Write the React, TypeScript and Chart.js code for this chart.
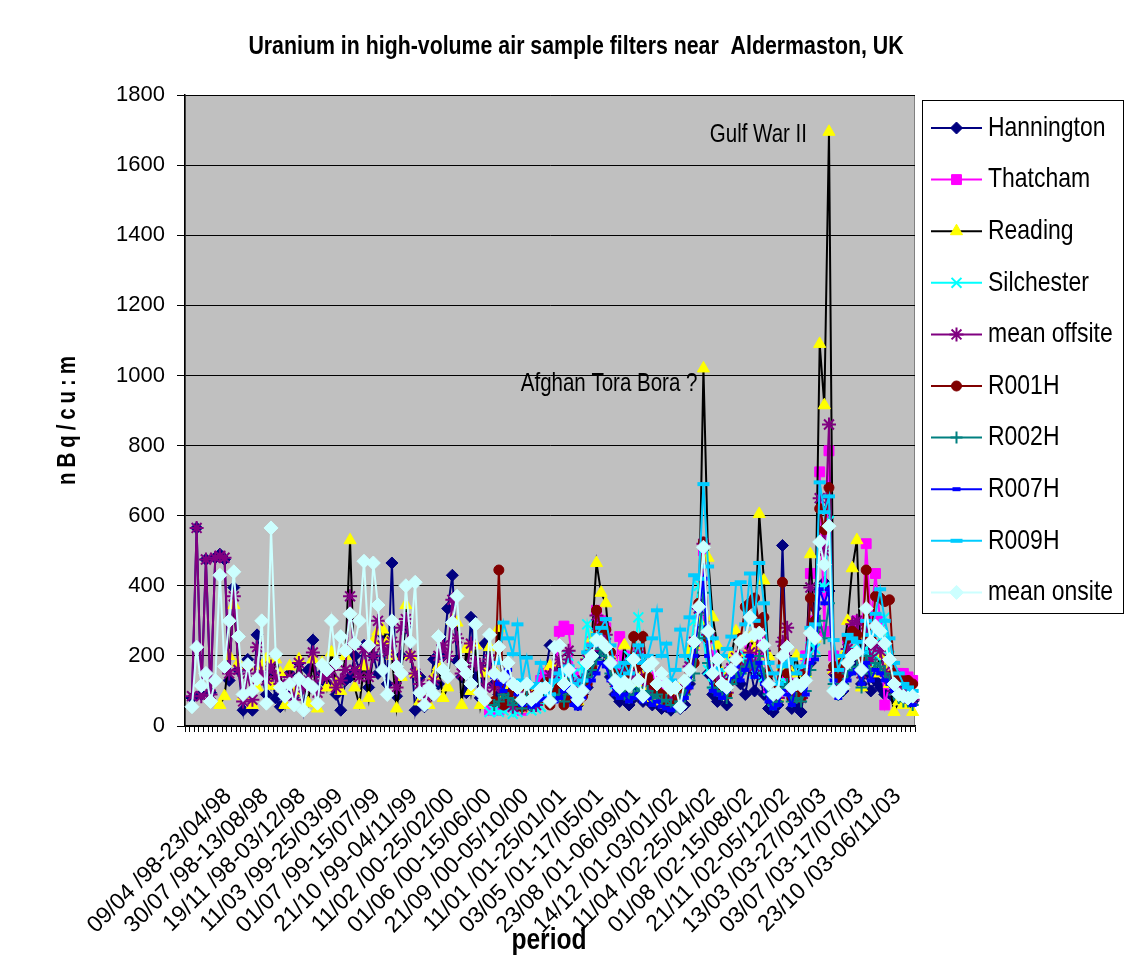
import React, { useEffect, useRef } from 'react';
import { Chart, registerables } from 'chart.js';
import { drawPoint } from 'chart.js/helpers';

Chart.register(...registerables);

const NA = null;

// ---- tick labels (every 8th fortnightly period) ----
const TICK_LABELS = [
  '09/04 /98-23/04/98', '30/07 /98-13/08/98', '19/11 /98-03/12/98', '11/03 /99-25/03/99',
  '01/07 /99-15/07/99', '21/10 /99-04/11/99', '11/02 /00-25/02/00', '01/06 /00-15/06/00',
  '21/09 /00-05/10/00', '11/01 /01-25/01/01', '03/05 /01-17/05/01', '23/08 /01-06/09/01',
  '14/12 /01-03/01/02', '11/04 /02-25/04/02', '01/08 /02-15/08/02', '21/11 /02-05/12/02',
  '13/03 /03-27/03/03', '03/07 /03-17/07/03', '23/10 /03-06/11/03',
];
const CATEGORY_COUNT = 157;
const LABEL_FIRST = 1;
const LABEL_STEP = 8;

// ---- series values (nBq/cu.m), one value per period ----
const HANNINGTON = [
  NA,
  80, 565, 90, 475, 95, 480, 490, 475, 130, 395,
  160, 45, 190, 45, 260, 145, 90, 150, 80, 55,
  100, 150, 85, 180, 45, 160, 245, 105, 150, 120,
  170, 90, 45, 130, 140, 200, 160, 230, 110, 200,
  150, 260, 120, 465, 85, 200, 280, 240, 45, 140,
  55, 80, 190, 120, 200, 335, 430, 185, 140, 95,
  310, 140, 80, 235, 170, 120, 90, 60, 75, 50,
  100, 60, 80, 55, 70, 100, 150, 230, 225, 150,
  100, 130, 70, 60, 90, 110, 160, 200, 230, 180,
  140, 90, 70, 90, 60, 80, 110, 70, 90, 60,
  75, 50, 55, 45, 65, 50, 60, 120, 200, 340,
  300, 150, 90, 70, 110, 60, 130, 150, 120, 90,
  170, 100, 150, 90, 50, 40, 60, 515, 120, 50,
  60, 40, 130, 180, 335, 390, 410, 385, 150, 90,
  100, 150, 200, 180, 120, 150, 100, 130, 110, 90,
  100, 80, 100, 90, 80, 70,
];

const THATCHAM = [
  NA, NA, NA, NA, NA, NA, NA, NA, NA, NA,
  NA, NA, NA, NA, NA, NA, NA, NA, NA, NA,
  NA, NA, NA, NA, NA, NA, NA, NA, NA, NA,
  NA, NA, NA, NA, NA, NA, NA, NA, NA, NA,
  NA, NA, NA, NA, NA, NA, NA, NA, NA, NA,
  NA, NA, NA, NA, NA, NA, NA, NA, NA, NA,
  NA, NA, NA, NA, NA,
  45,
  50, 45, 60, 70, 55,
  80, 45, 90, 70, 60, 130, 150, 100, 130, 270,
  285, 275, 150, 100, 130, 180, 240, 330, 300, 280,
  200, 150, 255, 200, 150, 180, 210, 160, 130, 110,
  140, 120, 100, 90, 80, 100, 110, 160, 230, 300,
  500, 250, 200, 150, 130, 120, 160, 190, 200, 180,
  230, 200, 260, 210, 110, 80, 90, 150, 130, 100,
  120, 110, 200, 435, 300, 725, 270, 785, 200, 150,
  180, 250, 280, 300, 200, 520, 300, 435, 300, 60,
  120, 150, 150, 150, 140, 130,
];

const READING = [
  NA,
  NA, NA, NA, NA, NA, NA, 60, 85, 200, 345,
  180, 85, 170, 60, 110, 170, 190, 115, 190, 150,
  60, 170, 95, 190, 120, 65, 190, 50, 180, 110,
  210, 120, 100, 200, 530, 110, 60, 170, 80, 240,
  270, 275, 240, 200, 50, 140, 345, 200, 150, 70,
  90, 60, 140, 170, 80, 110, 300, 295, 60, 220,
  100, 230, 60, 150, 225, 160, 280, 80, 100, 60,
  90, 50, 110, 70, 60, 90, 70, 170, 150, 180,
  130, 160, 110, 70, 120, 200, 250, 465, 380, 350,
  200, 130, 110, 230, 150, 120, 160, 110, 100, 80,
  90, 70, 60, 100, 70, 90, 130, 215, 230, 300,
  1020, 480, 310, 230, 150, 100, 200, 270, 180, 200,
  250, 220, 605, 415, 200, 100, 80, 170, 230, 150,
  200, 90, 150, 490, 250, 1090, 915, 1695, 160, 100,
  200, 300, 450, 530, 110, 260, 180, 150, 200, 160,
  120, 40, 70, 60, 70, 40,
];

const SILCHESTER = [
  NA, NA, NA, NA, NA, NA, NA, NA, NA, NA,
  NA, NA, NA, NA, NA, NA, NA, NA, NA, NA,
  NA, NA, NA, NA, NA, NA, NA, NA, NA, NA,
  NA, NA, NA, NA, NA, NA, NA, NA, NA, NA,
  NA, NA, NA, NA, NA, NA, NA, NA, NA, NA,
  NA, NA, NA, NA, NA, NA, NA, NA, NA, NA,
  NA, NA, NA, NA, NA,
  40,
  45, 40, 45, 50, 35,
  40, 60, 70, 45, 50, 55, 80, 75, 120, 150,
  110, 200, 150, 100, 170, 290, 210, 260, 250, 240,
  180, 120, 100, 160, 200, 180, 310, 190, 150, 120,
  100, 90, 80, 70, 60, 90, 120, 180, 300, 400,
  250, 160, 120, 110, 150, 100, 180, 170, 160, 200,
  180, 150, 170, 140, 100, 70, 80, 130, 120, 90,
  100, 80, 150, 250, 220, 395, 395, 585, 120, 100,
  150, 180, 220, 200, 170, 220, 180, 200, 250, 310,
  200, 120, 100, 90, 80, 75,
];

const MEAN_OFFSITE = [
  NA,
  85, 565, 85, 475, 90, 480, 485, 480, 150, 370,
  160, 70, 150, 75, 225, 150, 130, 170, 140, 120,
  95, 140, 75, 180, 110, 130, 210, 95, 140, 140,
  160, 110, 130, 160, 370, 160, 140, 220, 140, 200,
  300, 230, 210, 240, 110, 280, 305, 200, 150, 120,
  70, 85, 130, 200, 230, 200, 360, 250, 150, 160,
  235, 180, 170, 110, 190, 110, 115, 65, 75, 55,
  80, 55, 85, 60, 60, 95, 110, 145, 150, 190,
  160, 215, 120, 85, 130, 190, 215, 315, 290, 260,
  180, 125, 135, 170, 140, 140, 200, 130, 120, 95,
  100, 85, 75, 75, 70, 80, 105, 170, 240, 335,
  520, 260, 180, 140, 135, 95, 165, 195, 165, 170,
  210, 170, 295, 215, 115, 75, 80, 240, 280, 100,
  120, 80, 160, 395, 280, 650, 500, 860, 160, 110,
  160, 220, 290, 300, 150, 290, 190, 230, 215, 155,
  135, 100, 105, 95, 90, 75,
];

const R001H = [
  NA, NA, NA, NA, NA, NA, NA, NA, NA, NA,
  NA, NA, NA, NA, NA, NA, NA, NA, NA, NA,
  NA, NA, NA, NA, NA, NA, NA, NA, NA, NA,
  NA, NA, NA, NA, NA, NA, NA, NA, NA, NA,
  NA, NA, NA, NA, NA, NA, NA, NA, NA, NA,
  NA, NA, NA, NA, NA, NA, NA, NA, NA, NA,
  NA, NA, NA, NA, NA, NA,
  70, 445, 60, 90, 100,
  70, 55, 110, 65, 90, 80, 125, 60, 95, 110,
  60, 80, 95, 70, 85, 120, 170, 330, 280, 275,
  210, 150, 110, 140, 170, 255, 170, 255, 140, 120,
  100, 90, 60, 110, 60, 80, 100, 150, 180, 350,
  525, 250, 150, 110, 120, 90, 130, 180, 250, 340,
  350, 365, 290, 310, 150, 90, 110, 410, 150, 80,
  100, 80, 150, 365, 300, 620, 560, 680, 170, 140,
  180, 250, 270, 260, 190, 445, 250, 370, 365, 355,
  360, 150, 140, 130, 130, 120,
];

const R002H = [
  NA, NA, NA, NA, NA, NA, NA, NA, NA, NA,
  NA, NA, NA, NA, NA, NA, NA, NA, NA, NA,
  NA, NA, NA, NA, NA, NA, NA, NA, NA, NA,
  NA, NA, NA, NA, NA, NA, NA, NA, NA, NA,
  NA, NA, NA, NA, NA, NA, NA, NA, NA, NA,
  NA, NA, NA, NA, NA, NA, NA, NA, NA, NA,
  NA, NA, NA, NA, NA, NA,
  60, 70, 90, 80, 60,
  75, 50, 85, 60, 70, 90, 100, 70, 80, 90,
  70, 120, 90, 80, 100, 140, 160, 190, 220, 200,
  150, 120, 100, 90, 80, 90, 110, 85, 100, 80,
  90, 70, 75, 60, 55, 70, 90, 130, 150, 250,
  380, 180, 110, 100, 90, 80, 120, 140, 150, 170,
  180, 170, 200, 150, 90, 60, 70, 110, 120, 70,
  80, 70, 100, 160, 200, 300, 250, 350, 120, 90,
  120, 150, 160, 170, 110, 200, 150, 180, 170, 150,
  130, 90, 80, 70, 70, 60,
];

const R007H = [
  NA, NA, NA, NA, NA, NA, NA, NA, NA, NA,
  NA, NA, NA, NA, NA, NA, NA, NA, NA, NA,
  NA, NA, NA, NA, NA, NA, NA, NA, NA, NA,
  NA, NA, NA, NA, NA, NA, NA, NA, NA, NA,
  NA, NA, NA, NA, NA, NA, NA, NA, NA, NA,
  NA, NA, NA, NA, NA, NA, NA, NA, NA, NA,
  NA, NA, NA, NA, NA, NA,
  140, 120, 100, 160, 110,
  90, 60, 70, 55, 60, 75, 80, 65, 70, 80,
  100, 110, 60, 50, 80, 110, 130, 150, 180, 170,
  130, 90, 80, 90, 70, 80, 90, 70, 80, 60,
  70, 55, 50, 45, 50, 60, 80, 110, 200, 330,
  420, 200, 100, 90, 80, 100, 140, 170, 130, 160,
  200, 140, 180, 120, 70, 50, 60, 100, 90, 60,
  120, 110, 90, 180, 190, 390, 350, 390, 130, 80,
  100, 130, 150, 160, 120, 180, 130, 160, 150, 130,
  120, 100, 90, 80, 70, 60,
];

const R009H = [
  NA, NA, NA, NA, NA, NA, NA, NA, NA, NA,
  NA, NA, NA, NA, NA, NA, NA, NA, NA, NA,
  NA, NA, NA, NA, NA, NA, NA, NA, NA, NA,
  NA, NA, NA, NA, NA, NA, NA, NA, NA, NA,
  NA, NA, NA, NA, NA, NA, NA, NA, NA, NA,
  NA, NA, NA, NA, NA, NA, NA, NA, NA, NA,
  NA, NA, NA, NA, NA, NA, NA,
  180, 295, 250, 205,
  290, 130, 195, 110, 120, 180, 120, 90, 130, 150,
  160, 170, 120, 90, 130, 210, 230, 260, 280, 305,
  230, 170, 140, 180, 150, 200, 230, 180, 200, 250,
  330, 200, 235, 130, 160, 275, 200, 310, 430, 420,
  690, 455, 250, 160, 200, 220, 255, 405, 410, 290,
  435, 300, 465, 350, 180, 150, 120, 170, 180, 190,
  150, 170, 200, 280, 290, 695, 610, 655, 245, 160,
  200, 260, 250, 240, 210, 300, 260, 320, 390, 300,
  250, 180, 150, 120, 110, 100,
];

const MEAN_ONSITE = [
  NA,
  55, 225, 115, 150, 70, 130, 430, 170, 300, 440,
  255, 90, 175, 100, 135, 300, 65, 565, 205, 110,
  85, 120, 60, 135, 45, 120, 110, 65, 175, 160,
  300, 180, 255, 215, 320, 235, 300, 470, 230, 465,
  345, 160, 90, 300, 170, 150, 400, 240, 410, 95,
  60, 110, 90, 255, 160, 140, 295, 370, 175, 150,
  120, 290, 95, 75, 260, 150, 225, 140, 180, 120,
  110, 75, 120, 75, 85, 105, 110, 70, 225, 230,
  120, 160, 100, 75, 100, 180, 200, 245, 240, 225,
  180, 130, 110, 125, 115, 190, 130, 85, 170, 180,
  120, 150, 120, 105, 110, 55, 130, 160, 240, 340,
  510, 270, 150, 190, 120, 110, 160, 190, 240, 250,
  310, 260, 265, 230, 120, 90, 95, 200, 225, 110,
  120, 115, 130, 265, 250, 525, 460, 570, 100, 95,
  110, 180, 200, 210, 160, 335, 240, 285, 270, 235,
  190, 120, 90, 85, 80, 85,
];

const TITLE = 'Uranium in high-volume air sample filters near  Aldermaston, UK';
const Y_TITLE = 'nBq/cu:m';
const X_TITLE = 'period';

// ---- styles ----
const SERIES = [
  { label: 'Hannington', data: HANNINGTON, line: '#000080', fill: '#000080', stroke: '#000080', style: 'rectRot', radius: 6, pbw: 1 },
  { label: 'Thatcham', data: THATCHAM, line: '#FF00FF', fill: '#FF00FF', stroke: '#FF00FF', style: 'rect', radius: 7, pbw: 1 },
  { label: 'Reading', data: READING, line: '#000000', fill: '#FFFF00', stroke: '#FFFF00', style: 'triangle', radius: 7, pbw: 1 },
  { label: 'Silchester', data: SILCHESTER, line: '#00FFFF', fill: '#00FFFF', stroke: '#00FFFF', style: 'crossRot', radius: 7, pbw: 2 },
  { label: 'mean offsite', data: MEAN_OFFSITE, line: '#800080', fill: '#800080', stroke: '#800080', style: 'star', radius: 7, pbw: 2 },
  { label: 'R001H', data: R001H, line: '#800000', fill: '#800000', stroke: '#800000', style: 'circle', radius: 5, pbw: 1 },
  { label: 'R002H', data: R002H, line: '#008080', fill: '#008080', stroke: '#008080', style: 'cross', radius: 6, pbw: 2 },
  { label: 'R007H', data: R007H, line: '#0000FF', fill: '#0000FF', stroke: '#0000FF', style: 'line', radius: 4, pbw: 4 },
  { label: 'R009H', data: R009H, line: '#00CCFF', fill: '#00CCFF', stroke: '#00CCFF', style: 'line', radius: 6, pbw: 4 },
  { label: 'mean onsite', data: MEAN_ONSITE, line: '#CCFFFF', fill: '#CCFFFF', stroke: '#CCFFFF', style: 'rectRot', radius: 7, pbw: 1 },
];

function fontAvailable(name: string): boolean {
  try {
    const c = document.createElement('canvas').getContext('2d');
    if (!c) return false;
    const sample = 'mmmmmmmmmmlliWW0123456789abc';
    c.font = '40px monospace';
    const w1 = c.measureText(sample).width;
    c.font = `40px '${name}', monospace`;
    const w2 = c.measureText(sample).width;
    return Math.abs(w1 - w2) > 0.5;
  } catch (e) {
    return false;
  }
}

const HAS_NARROW = fontAvailable('Liberation Sans Narrow');
const NARROW_FAMILY = HAS_NARROW
  ? "'Liberation Sans Narrow', 'Liberation Sans', Arial, sans-serif"
  : "'Liberation Sans', Arial, sans-serif";
const NARROW_SCALE = HAS_NARROW ? 1 : 0.82;
const REGULAR_FAMILY = "'Liberation Sans', Arial, sans-serif";

function drawText(
  ctx: CanvasRenderingContext2D,
  text: string,
  x: number,
  y: number,
  o: { size: number; bold?: boolean; align?: CanvasTextAlign; rotate?: number; spacing?: number }
) {
  ctx.save();
  ctx.translate(x, y);
  if (o.rotate) ctx.rotate(o.rotate);
  ctx.scale(NARROW_SCALE, 1);
  ctx.font = `${o.bold ? 'bold ' : ''}${o.size}px ${NARROW_FAMILY}`;
  ctx.textAlign = o.align || 'left';
  ctx.textBaseline = 'middle';
  ctx.fillStyle = '#000';
  if (o.spacing) (ctx as any).letterSpacing = `${o.spacing}px`;
  ctx.fillText(text, 0, 0);
  ctx.restore();
}

const plotBackground = {
  id: 'plotBackground',
  beforeDraw(chart: any) {
    const { ctx, chartArea: a } = chart;
    ctx.save();
    ctx.fillStyle = '#C0C0C0';
    ctx.fillRect(a.left, a.top, a.right - a.left, a.bottom - a.top);
    ctx.strokeStyle = '#808080';
    ctx.lineWidth = 1;
    ctx.strokeRect(a.left + 0.5, a.top + 0.5, a.right - a.left - 1, a.bottom - a.top - 1);
    ctx.restore();
  },
};

const texts = {
  id: 'texts',
  afterDraw(chart: any) {
    const { ctx } = chart;
    const xs = chart.scales.x;
    const ys = chart.scales.y;
    drawText(ctx, TITLE, 576, 47, { size: 26, bold: true, align: 'center' });
    drawText(ctx, Y_TITLE, 68, 418, { size: 25, bold: true, align: 'center', rotate: -Math.PI / 2, spacing: 6 });
    drawText(ctx, X_TITLE, 549, 941, { size: 30, bold: true, align: 'center' });
    // annotations tied to the data points
    drawText(ctx, 'Afghan Tora Bora ?', xs.getPixelForValue(111) - 6, ys.getPixelForValue(975), { size: 25, align: 'right' });
    drawText(ctx, 'Gulf War II', xs.getPixelForValue(138) - 22, ys.getPixelForValue(1686), { size: 25, align: 'right' });

    // legend
    const lx = 922, ly = 100, lw = 201, lh = 513;
    ctx.save();
    ctx.fillStyle = '#FFFFFF';
    ctx.fillRect(lx, ly, lw, lh);
    ctx.strokeStyle = '#000';
    ctx.lineWidth = 1;
    ctx.strokeRect(lx + 0.5, ly + 0.5, lw, lh);
    SERIES.forEach((s, k) => {
      const y = 128 + k * 51.6;
      ctx.beginPath();
      ctx.strokeStyle = s.line;
      ctx.lineWidth = 2;
      ctx.moveTo(931, y);
      ctx.lineTo(982, y);
      ctx.stroke();
      ctx.fillStyle = s.fill;
      ctx.strokeStyle = s.stroke;
      ctx.lineWidth = s.pbw;
      drawPoint(ctx, { pointStyle: s.style, radius: s.radius, borderWidth: s.pbw, rotation: 0 } as any, 956.5, y);
    });
    ctx.restore();
    SERIES.forEach((s, k) => {
      drawText(ctx, s.label, 988, 128 + k * 51.6, { size: 28 });
    });
  },
};

export default function App() {
  const ref = useRef<HTMLCanvasElement>(null);
  useEffect(() => {
    if (!ref.current) return;
    const labels = Array.from({ length: CATEGORY_COUNT }, (_v, i) =>
      i >= LABEL_FIRST && (i - LABEL_FIRST) % LABEL_STEP === 0 ? TICK_LABELS[(i - LABEL_FIRST) / LABEL_STEP] || '' : ''
    );
    const chart = new Chart(ref.current, {
      type: 'line',
      data: {
        labels,
        datasets: SERIES.map((s, i) => ({
          label: s.label,
          data: s.data,
          borderColor: s.line,
          backgroundColor: s.fill,
          borderWidth: 2,
          pointStyle: s.style as any,
          pointRadius: s.radius,
          pointHoverRadius: s.radius,
          pointBackgroundColor: s.fill,
          pointBorderColor: s.stroke,
          pointBorderWidth: s.pbw,
          tension: 0,
          spanGaps: true,
          fill: false,
          clip: false as any,
          order: SERIES.length - i,
        })),
      },
      options: {
        responsive: false,
        maintainAspectRatio: false,
        animation: false,
        events: [],
        layout: { padding: { left: 0, right: 218, top: 95, bottom: 0 } },
        plugins: {
          legend: { display: false },
          title: { display: false },
          tooltip: { enabled: false },
        },
        scales: {
          x: {
            type: 'category',
            offset: true,
            grid: { offset: true, drawOnChartArea: false, tickLength: 6, tickColor: '#000', lineWidth: 1 },
            border: { color: '#000', width: 1.5 },
            ticks: {
              autoSkip: false,
              maxRotation: 45,
              minRotation: 45,
              labelOffset: 36,
              padding: 51,
              color: '#000',
              font: { family: REGULAR_FAMILY, size: 23 },
              callback: (_v: any, i: number) => labels[i],
            },
            afterFit: (scale: any) => {
              scale.height = 241;
            },
          },
          y: {
            min: 0,
            max: 1800,
            grid: { color: '#000', lineWidth: 1, tickLength: 8, tickColor: '#000' },
            border: { color: '#000', width: 1.5 },
            ticks: {
              stepSize: 200,
              padding: 12,
              color: '#000',
              font: { family: NARROW_FAMILY, size: HAS_NARROW ? 27 : 22 },
              callback: (v: any) => String(v),
            },
            afterFit: (scale: any) => {
              scale.width = 185;
            },
          },
        },
      },
      plugins: [plotBackground, texts],
    } as any);
    return () => chart.destroy();
  }, []);
  return (
    <div style={{ position: 'absolute', left: 0, top: 0, width: 1133, height: 967, background: '#FFFFFF' }}>
      <canvas ref={ref} width={1133} height={967} style={{ display: 'block', width: 1133, height: 967 }} />
    </div>
  );
}
